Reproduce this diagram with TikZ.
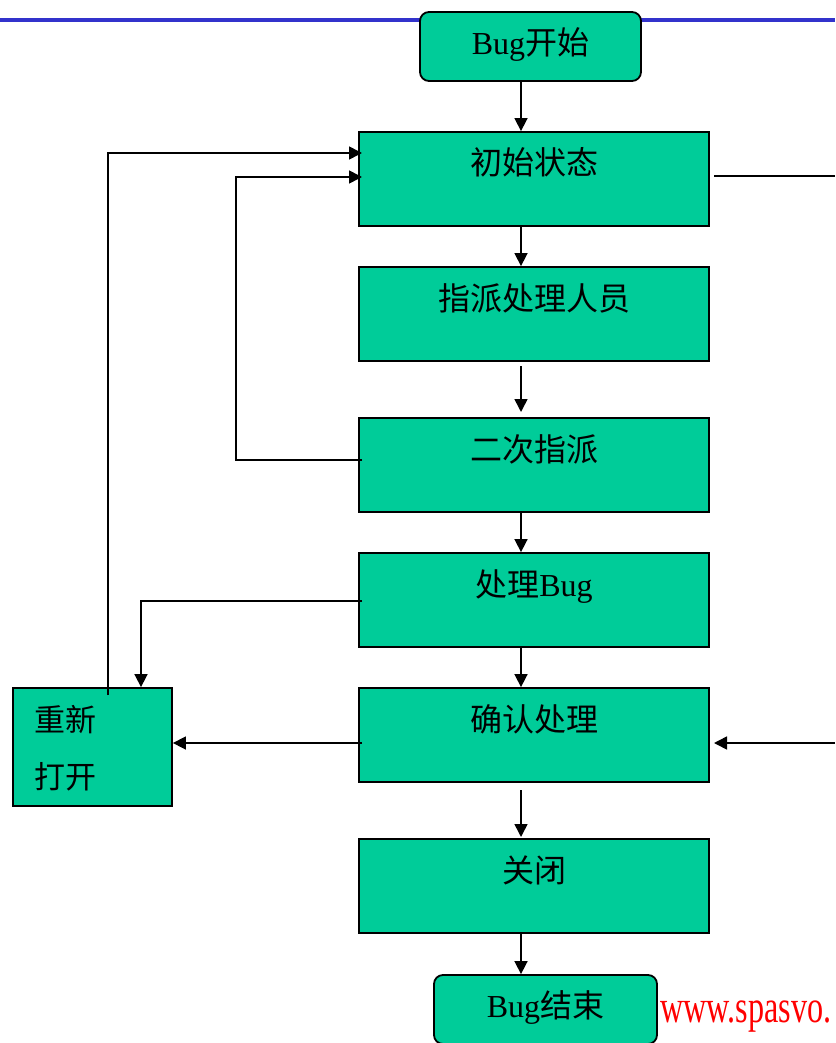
\documentclass[tikz,border=0pt]{standalone}
\usepackage{fontspec}
\setmainfont{Liberation Serif}
\newfontfamily\cjk{Noto Sans CJK SC}
\usetikzlibrary{arrows.meta}
\definecolor{boxgreen}{RGB}{0,204,153}
\definecolor{topblue}{RGB}{51,51,204}
\tikzset{
  box/.style={draw=black, line width=1.8pt, fill=boxgreen, inner sep=0pt,
    minimum width=350pt, text height=43pt, text depth=51pt,
    font=\fontsize{32}{38}\selectfont},
  endbox/.style={draw=black, line width=1.8pt, fill=boxgreen, rounded corners=9pt,
    inner sep=0pt, font=\fontsize{32}{38}\selectfont},
  conn/.style={line width=1.6pt, draw=black},
  arr/.style={conn, -{Triangle[length=13pt,width=13pt]}}
}
\begin{document}
\begin{tikzpicture}[x=1pt,y=-1pt]
\useasboundingbox (0,0) rectangle (835,1043);
% top blue rule
\coordinate (bl) at (0,20);
\coordinate (br) at (835,20);
\draw[topblue, line width=3.5pt] (bl) -- (br);
% column for vertical arrows
\coordinate (ax) at (521,0);
% start / end
\node[endbox, minimum width=221pt, minimum height=69pt, text height=24pt, text depth=8pt] (start) at (530.5,46.5) {Bug{\cjk 开始}};
\node[endbox, minimum width=223pt, minimum height=69pt, text height=24pt, text depth=8pt] (end) at (545.5,1009.5) {Bug{\cjk 结束}};
% states
\node[box] (s1) at (534,179) {\cjk 初始状态};
\node[box] (s2) at (534,314) {\cjk 指派处理人员};
\node[box] (s3) at (534,465) {\cjk 二次指派};
\node[box] (s4) at (534,600) {{\cjk 处理}Bug};
\node[box] (s5) at (534,735) {\cjk 确认处理};
\node[box] (s6) at (534,886) {\cjk 关闭};
\node[draw=black, line width=1.8pt, fill=boxgreen, minimum width=159pt, minimum height=118pt, inner sep=0pt] (rk) at (92.5,747) {};
\node[anchor=west, align=left, inner sep=0pt, font=\cjk\fontsize{31}{57}\selectfont] (rkt) at (34,748.5) {重新\\打开};
% vertical arrows
\coordinate (a23s) at (521,366);
\coordinate (a23e) at (521,412);
\coordinate (a56s) at (521,790);
\coordinate (a56e) at (521,837);
\draw[arr] (start.south -| ax) -- (s1.north -| ax);
\draw[arr] (s1.south -| ax) -- (s2.north -| ax);
\draw[arr] (a23s) -- (a23e);
\draw[arr] (s3.south -| ax) -- (s4.north -| ax);
\draw[arr] (s4.south -| ax) -- (s5.north -| ax);
\draw[arr] (a56s) -- (a56e);
\draw[arr] (s6.south -| ax) -- (end.north -| ax);
% feedback loops on the left
\coordinate (r1) at (108,695);
\coordinate (r1t) at (362,153);
\draw[arr] (r1) -- (r1 |- r1t) -- (r1t);
\coordinate (c2s) at (362,460);
\coordinate (c2e) at (362,177);
\draw[arr] (c2s) -- (236,460) -- (236,177) -- (c2e);
\coordinate (c3s) at (362,601);
\coordinate (c3x) at (141,601);
\draw[arr] (c3s) -- (c3x) -- (c3x |- rk.north);
\coordinate (c4s) at (362,743);
\draw[arr] (c4s) -- (rk.east |- c4s);
% loop on the right, leaving the picture
\coordinate (o1) at (714,176);
\coordinate (o2) at (835,176);
\draw[conn] (o1) -- (o2);
\coordinate (i1) at (835,743);
\coordinate (i2) at (714,743);
\draw[arr] (i1) -- (i2);
% watermark text
\node[anchor=base west, inner sep=0pt, text=red, font=\fontsize{46}{52}\selectfont] (wm) at (660,1022) {\scalebox{0.7}[1]{www.spasvo.}};
\end{tikzpicture}
\end{document}
